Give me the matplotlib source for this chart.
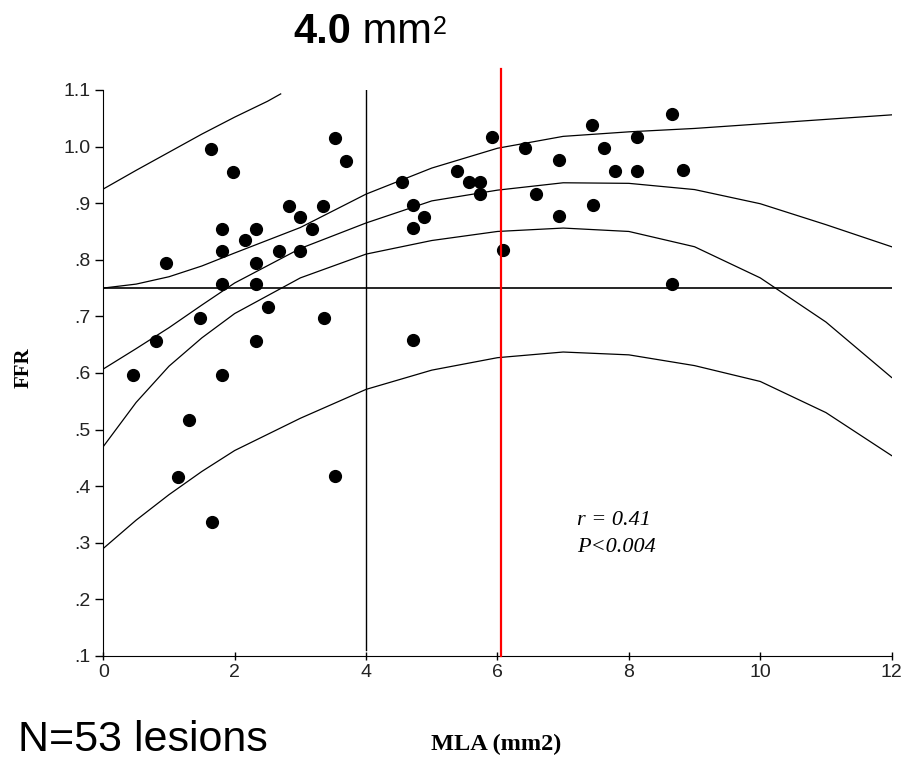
import matplotlib
matplotlib.use("Agg")
import matplotlib.pyplot as plt

# lesion data: MLA (mm2) vs FFR
mla = [0.96, 1.64, 1.98, 1.81, 1.81, 1.81, 2.15, 2.32, 2.32, 2.32,
       2.67, 2.83, 3.00, 3.17, 3.00, 3.35, 3.52, 3.69, 2.50, 1.47,
       0.80, 2.32, 3.36, 0.45, 1.81, 1.31, 1.14, 1.66, 3.53,
       4.54, 5.91, 6.42, 6.94, 7.44, 7.62, 8.12, 8.65, 5.39, 5.56,
       5.74, 5.74, 7.79, 8.12, 8.82, 4.72, 4.88, 4.72, 6.59, 6.94,
       7.45, 6.09, 8.65, 4.72]
ffr = [0.795, 0.995, 0.955, 0.855, 0.815, 0.757, 0.835, 0.855, 0.795, 0.757,
       0.815, 0.895, 0.875, 0.855, 0.815, 0.895, 1.015, 0.975, 0.717, 0.697,
       0.657, 0.657, 0.697, 0.597, 0.597, 0.517, 0.417, 0.337, 0.418,
       0.937, 1.017, 0.997, 0.977, 1.038, 0.997, 1.017, 1.058, 0.957, 0.937,
       0.937, 0.917, 0.957, 0.957, 0.958, 0.896, 0.876, 0.856, 0.917, 0.877,
       0.896, 0.817, 0.758, 0.658]

# curves (fit and bands)
cx = [0, 0.5, 1, 1.5, 2, 3, 4, 5, 6, 7, 8, 9, 10, 11, 12]
upper_ci = [0.750, 0.757, 0.770, 0.789, 0.812, 0.857, 0.916, 0.962, 0.997, 1.018, 1.026, 1.032, 1.040, 1.048, 1.056]
fit = [0.607, 0.643, 0.680, 0.720, 0.759, 0.820, 0.865, 0.904, 0.923, 0.936, 0.935, 0.924, 0.899, 0.862, 0.823]
lower_ci = [0.470, 0.548, 0.612, 0.662, 0.705, 0.768, 0.810, 0.834, 0.850, 0.856, 0.850, 0.823, 0.768, 0.690, 0.592]
lower_pi = [0.290, 0.340, 0.385, 0.426, 0.463, 0.520, 0.571, 0.605, 0.627, 0.637, 0.632, 0.613, 0.585, 0.530, 0.454]
px_top = [0, 0.5, 1, 1.5, 2, 2.5, 2.7]
upper_pi = [0.925, 0.958, 0.990, 1.022, 1.052, 1.080, 1.093]

ffr_cut = 0.75
mla_cut = 4.0
mla_red = 6.05

yticks = [0.1, 0.2, 0.3, 0.4, 0.5, 0.6, 0.7, 0.8, 0.9, 1.0, 1.1]
ylabels = [".1", ".2", ".3", ".4", ".5", ".6", ".7", ".8", ".9", "1.0", "1.1"]
xticks = [0, 2, 4, 6, 8, 10, 12]

sans = "Liberation Sans"
serif = "Liberation Serif"

fig = plt.figure(figsize=(9.03, 7.61), dpi=100)
ax = fig.add_axes([0.1144, 0.138, 0.873, 0.7438])

for ys in (upper_ci, fit, lower_ci, lower_pi):
    ax.plot(cx, ys, color="black", lw=0.9)
ax.plot(px_top, upper_pi, color="black", lw=0.9)

ax.plot([0, 12], [ffr_cut, ffr_cut], color="black", lw=1.2)
ax.plot([mla_cut, mla_cut], [0.11, 1.1], color="black", lw=1.0)
ax.plot([mla_red, mla_red], [0.1, 1.137], color="red", lw=1.6, clip_on=False, zorder=5)

ax.plot(mla, ffr, "o", color="black", ms=8.5, zorder=4)

ax.set_xlim(0, 12)
ax.set_ylim(0.1, 1.1)
ax.spines["top"].set_visible(False)
ax.spines["right"].set_visible(False)
ax.set_yticks(yticks)
ax.set_yticklabels(ylabels, fontfamily=sans, fontsize=14, color="#222222")
ax.set_xticks(xticks)
ax.set_xticklabels([str(t) for t in xticks], fontfamily=sans, fontsize=14, color="#222222")
ax.tick_params(axis="y", direction="out", length=6, width=1, pad=3)
ax.tick_params(axis="x", direction="inout", length=6, width=1, pad=3)

ax.text(7.21, 0.339, "r = 0.41", fontfamily=serif, fontstyle="italic", fontsize=16, va="center")
ax.text(7.21, 0.291, "P<0.004", fontfamily=serif, fontstyle="italic", fontsize=16, va="center")

fig.text(24 / 903, 1 - 368 / 761, "FFR", fontfamily=serif, fontweight="bold", fontsize=15,
         rotation=90, ha="center", va="center")
fig.text(496 / 903, 11 / 761, "MLA (mm2)", fontfamily=serif, fontweight="bold", fontsize=17.5,
         ha="center", va="baseline")
fig.text(18 / 903, 10 / 761, "N=53 lesions", fontfamily=sans, fontsize=31, va="baseline")

# title: bold "4.0", then " mm" and a raised "2", chained side by side
t1 = fig.text(293 / 903, 1 - 43 / 761, "4.0", fontfamily=sans, fontweight="bold", fontsize=30, va="baseline")
t2 = fig.add_artist(plt.Annotation(" mm", xy=(1, 0), xycoords=t1, va="bottom", ha="left",
                                   fontfamily=sans, fontsize=30))
fig.add_artist(plt.Annotation("2", xy=(1, 1), xycoords=t2, xytext=(1, -2), textcoords="offset points",
                              va="top", ha="left", fontfamily=sans, fontsize=18))

fig.savefig("out.png", dpi=100, facecolor="white")
